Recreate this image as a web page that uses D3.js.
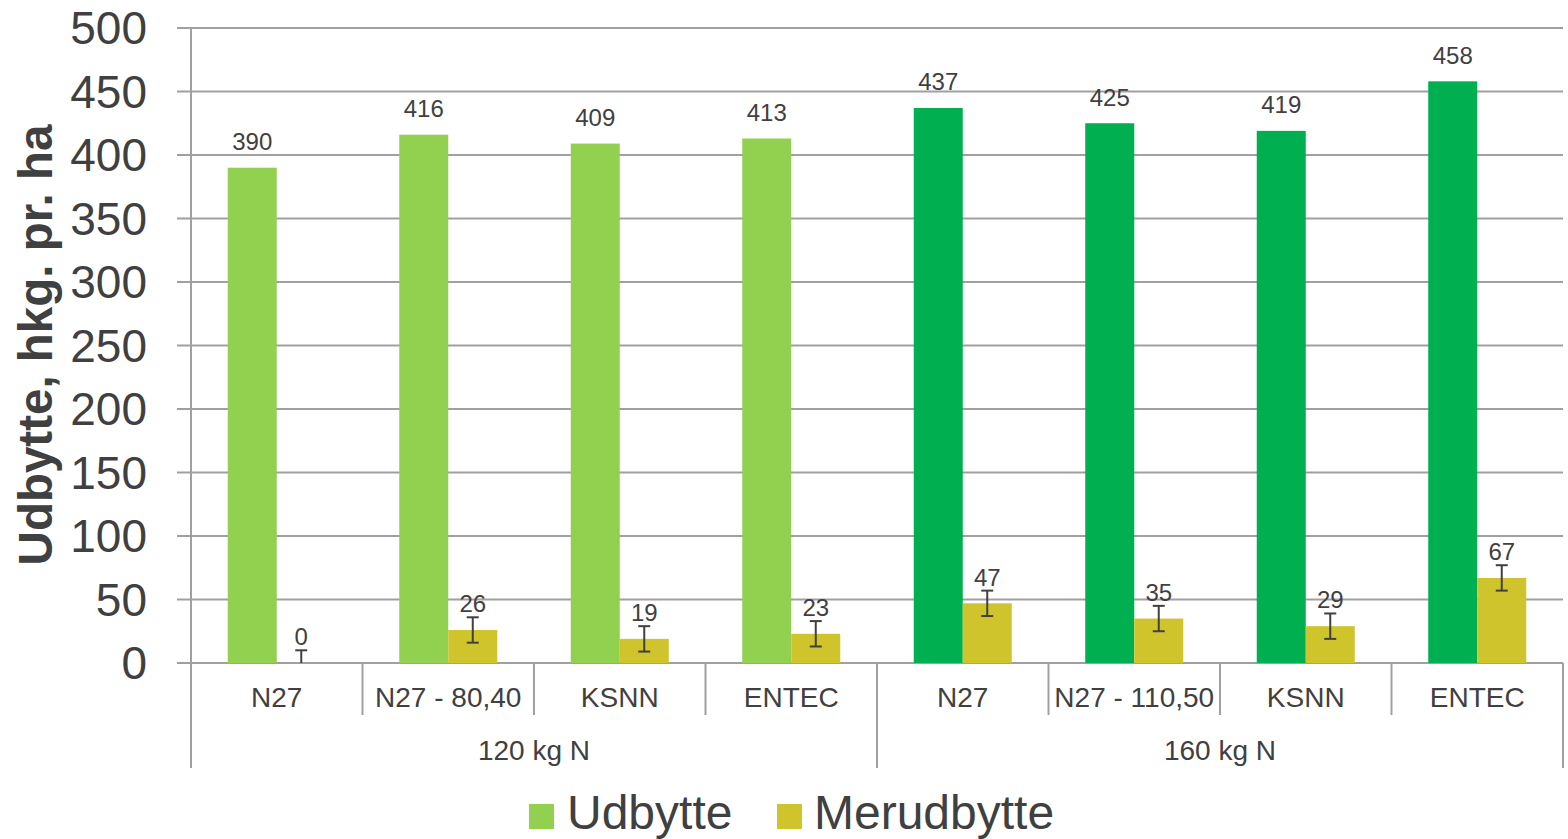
<!DOCTYPE html>
<html><head><meta charset="utf-8">
<script src="https://cdn.jsdelivr.net/npm/d3@7"></script>
<style>body{margin:0;background:#fff}svg{display:block;font-family:"Liberation Sans",Arial,sans-serif}</style>
</head><body>
<svg id="c" width="1568" height="839"></svg>
<script>
const categories = ["N27","N27 - 80,40","KSNN","ENTEC","N27","N27 - 110,50","KSNN","ENTEC"];
const groups = ["120 kg N","160 kg N"];
const udbytte = [390,416,409,413,437,425,419,458];
const merudbytte = [0,26,19,23,47,35,29,67];
const errors = [10,10,10,10,10,10,10,10];
const seriesNames = ["Udbytte","Merudbytte"];
const yTicks = [0,50,100,150,200,250,300,350,400,450,500];

(function(){
const svg = d3.select("#c");
const pL = 191, pR = 1563, pT = 28, pB = 663;
const textCol = "#404040", gridCol = "#a0a0a0";
const greenLight = "#92d050", greenDark = "#00b050", yellow = "#cfc42b";

const y = d3.scaleLinear().domain([0,500]).range([pB, pT]);
const x = d3.scaleBand().domain(d3.range(categories.length)).range([pL, pR]).padding(0);
const xi = d3.scaleBand().domain(seriesNames).range([0, x.bandwidth()]).paddingInner(0).paddingOuter(0.75);

// gridlines
svg.append("g").selectAll("line").data(yTicks).join("line")
  .attr("x1", pL-14).attr("x2", pR).attr("y1", d=>y(d)).attr("y2", d=>y(d))
  .attr("stroke", gridCol).attr("stroke-width", 2);

// y tick labels
svg.append("g").selectAll("text").data(yTicks).join("text")
  .attr("x", 147).attr("y", d=>y(d)).attr("dy","0.35em").attr("text-anchor","end")
  .attr("font-size", 46).attr("fill", textCol).text(d=>d);

// y axis line
svg.append("line").attr("x1",pL).attr("x2",pL).attr("y1",pT).attr("y2",768)
  .attr("stroke",gridCol).attr("stroke-width",2);

// category separators
const sep = svg.append("g");
categories.forEach((c,i)=>{
  if(i===0) return;
  const xx = x(i);
  const isGroup = (i===4);
  sep.append("line").attr("x1",xx).attr("x2",xx).attr("y1",pB).attr("y2",isGroup?768:715)
    .attr("stroke",gridCol).attr("stroke-width",2);
});
sep.append("line").attr("x1",pR).attr("x2",pR).attr("y1",pB).attr("y2",768)
  .attr("stroke",gridCol).attr("stroke-width",2);

// bars
const barG = svg.append("g");
barG.selectAll("rect.u").data(udbytte).join("rect").attr("class","u")
  .attr("x",(d,i)=>x(i)+xi("Udbytte")).attr("width",xi.bandwidth())
  .attr("y",d=>y(d)).attr("height",d=>y(0)-y(d))
  .attr("fill",(d,i)=> i<4?greenLight:greenDark);
barG.selectAll("rect.m").data(merudbytte).join("rect").attr("class","m")
  .attr("x",(d,i)=>x(i)+xi("Merudbytte")).attr("width",xi.bandwidth())
  .attr("y",d=>y(d)).attr("height",d=>y(0)-y(d))
  .attr("fill",yellow);

// error bars
const eg = svg.append("g").attr("stroke","#404040").attr("stroke-width",2);
merudbytte.forEach((d,i)=>{
  const cx = x(i)+xi("Merudbytte")+xi.bandwidth()/2;
  const lo = Math.max(0, d-errors[i]), hi = d+errors[i];
  eg.append("line").attr("x1",cx).attr("x2",cx).attr("y1",y(lo)).attr("y2",y(hi));
  eg.append("line").attr("x1",cx-6).attr("x2",cx+6).attr("y1",y(hi)).attr("y2",y(hi));
  if(d-errors[i] >= 0) eg.append("line").attr("x1",cx-6).attr("x2",cx+6).attr("y1",y(lo)).attr("y2",y(lo));
});

// value labels
const lg = svg.append("g").attr("font-size",24).attr("fill",textCol).attr("text-anchor","middle");
udbytte.forEach((d,i)=>{
  lg.append("text").attr("x",x(i)+xi("Udbytte")+xi.bandwidth()/2).attr("y",y(d+errors[i])-5).text(d);
});
merudbytte.forEach((d,i)=>{
  lg.append("text").attr("x",x(i)+xi("Merudbytte")+xi.bandwidth()/2).attr("y",y(d+errors[i])-5).text(d);
});

// category labels
svg.append("g").selectAll("text").data(categories).join("text")
  .attr("x",(d,i)=>x(i)+x.bandwidth()/2).attr("y",707).attr("text-anchor","middle")
  .attr("font-size",28).attr("fill",textCol).text(d=>d);
// group labels
svg.append("g").selectAll("text").data(groups).join("text")
  .attr("x",(d,i)=>(x(i*4)+x(i*4+3)+x.bandwidth())/2).attr("y",760).attr("text-anchor","middle")
  .attr("font-size",28).attr("fill",textCol).text(d=>d);

// y title
svg.append("text").attr("transform","translate(52,345) rotate(-90)").attr("text-anchor","middle")
  .attr("font-size",47.5).attr("font-weight","bold").attr("fill",textCol).text("Udbytte, hkg. pr. ha");

// legend
const legend = [{name:seriesNames[0],color:greenLight,x:529,tx:567},{name:seriesNames[1],color:yellow,x:777,tx:814}];
const leg = svg.append("g");
legend.forEach(l=>{
  leg.append("rect").attr("x",l.x).attr("y",804).attr("width",25).attr("height",25).attr("fill",l.color);
  leg.append("text").attr("x",l.tx).attr("y",829).attr("font-size",48).attr("fill",textCol).text(l.name);
});
})();
</script>
</body></html>
